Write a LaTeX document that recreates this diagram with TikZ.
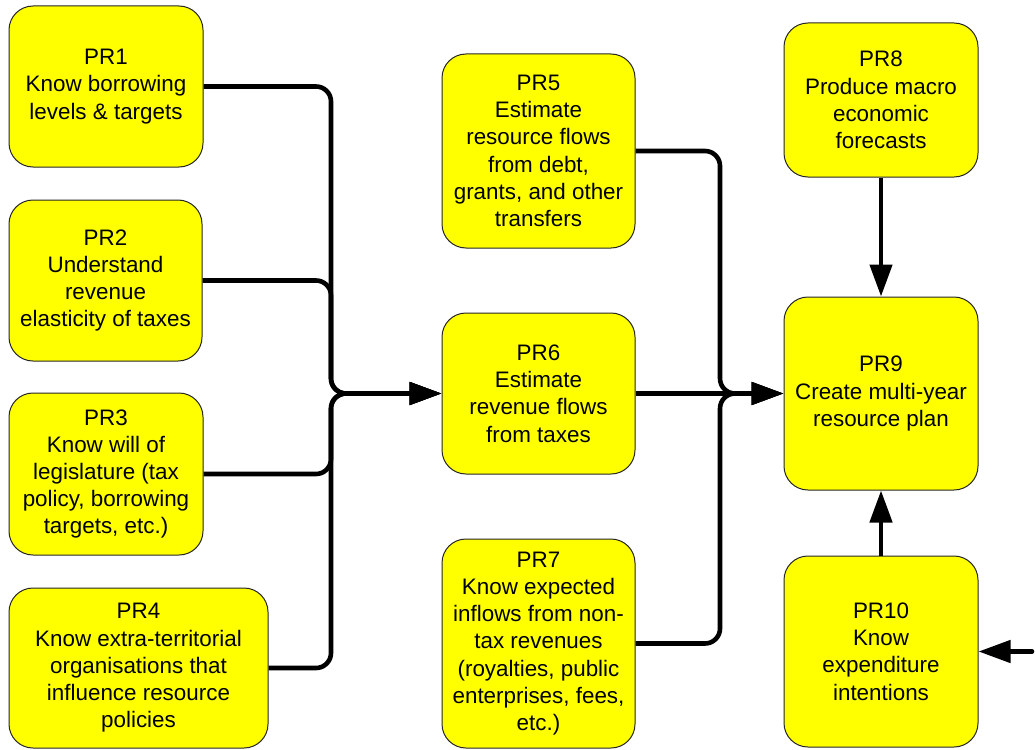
\documentclass[tikz,border=0pt]{standalone}
\usepackage{fontspec}
\setmainfont{Liberation Sans}
\usetikzlibrary{arrows.meta}
\definecolor{prfill}{RGB}{255,255,0}

\tikzset{
    prbox/.style={draw=black!85, line width=0.5pt, fill=prfill, rounded corners=12pt,
        align=center, inner sep=2pt, font=\fontsize{11.2}{13.6}\selectfont},
    flow/.style={line width=2.3pt, rounded corners=7.5pt, -{Triangle[length=16pt,width=11pt]}}
}

\begin{document}
\begin{tikzpicture}[x=0.5pt, y=-0.5pt]
                \useasboundingbox (0,0) rectangle (1036,749);
                \node(pr1)  at(106, 86.5)  [prbox, minimum width=97pt,  minimum height=80.5pt] {PR1\\Know borrowing\\levels \& targets};
                \node(pr2)  at(105.5, 280.5) [prbox, minimum width=96.5pt, minimum height=80.5pt] {PR2\\Understand\\revenue\\elasticity of taxes};
                \node(pr3)  at(106, 474)   [prbox, minimum width=97pt,  minimum height=81pt] {PR3\\Know will of\\legislature (tax\\policy, borrowing\\targets, etc.)};
                \node(pr4)  at(138.5, 668) [prbox, minimum width=129.5pt, minimum height=80pt] {PR4\\Know extra-territorial\\organisations that\\influence resource\\policies};
                \node(pr5)  at(538.5, 151) [prbox, minimum width=96.5pt, minimum height=97pt] {PR5\\Estimate\\resource flows\\from debt,\\grants, and other\\transfers};
                \node(pr6)  at(538.5, 393.5) [prbox, minimum width=96.5pt, minimum height=80.5pt] {PR6\\Estimate\\revenue flows\\from taxes};
                \node(pr7)  at(538.5, 643.5) [prbox, minimum width=96.5pt, minimum height=104.5pt] {PR7\\Know expected\\inflows from non-\\tax revenues\\(royalties, public\\enterprises, fees,\\etc.)};
                \node(pr8)  at(881, 100)   [prbox, minimum width=97pt,  minimum height=77pt] {PR8\\Produce macro\\economic\\forecasts};
                \node(pr9)  at(881, 393.5) [prbox, minimum width=97pt,  minimum height=96.5pt] {PR9\\Create multi-year\\resource plan};
                \node(pr10) at(881, 651.5) [prbox, minimum width=97pt,  minimum height=95.5pt] {PR10\\Know\\expenditure\\intentions};
                \coordinate(hub_l) at(331, 393.5);
                \coordinate(hub_r) at(720, 393.5);
                \coordinate(ext)   at(1032, 651.5);
                \draw[flow] (pr1.east) -| (hub_l) -- (pr6.west);
                \draw[flow] (pr2.east) -| (hub_l) -- (pr6.west);
                \draw[flow] (pr3.east) -| (hub_l) -- (pr6.west);
                \draw[flow] (pr4.east) -| (hub_l) -- (pr6.west);
                \draw[flow] (pr5.east) -| (hub_r) -- (pr9.west);
                \draw[flow] (pr7.east) -| (hub_r) -- (pr9.west);
                \draw[flow] (pr6.east) -- (pr9.west);
                \draw[flow] (pr8.south) -- (pr9.north);
                \draw[flow] (pr10.north) -- (pr9.south);
                \draw[flow, line cap=round] (ext) -- (pr10.east);
            \end{tikzpicture}
\end{document}
